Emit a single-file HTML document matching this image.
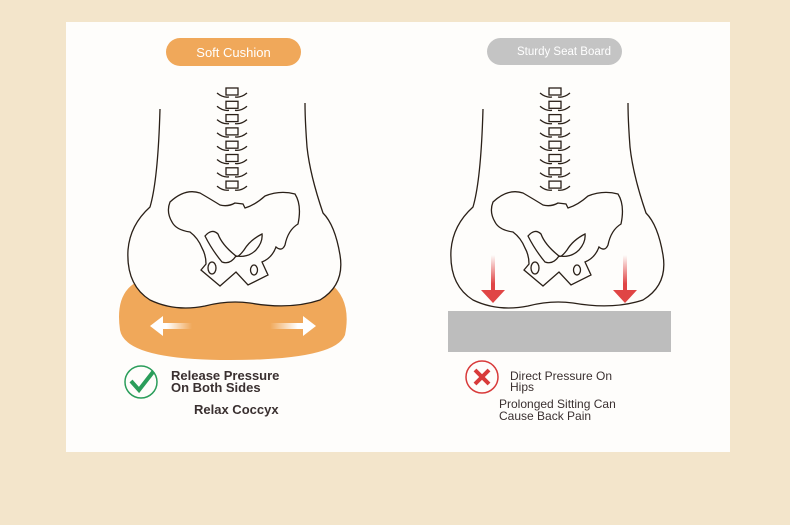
<!DOCTYPE html>
<html><head><meta charset="utf-8"><style>
html,body{margin:0;padding:0;background:#f3e5cb;}
svg{display:block}
text{font-family:"Liberation Sans",sans-serif;}
</style></head><body>
<svg width="790" height="525" viewBox="0 0 790 525" xmlns="http://www.w3.org/2000/svg">
<defs>
<g id="spine" fill="none" stroke="#2a2018" stroke-width="1.3">
  <g id="v"><rect x="-6" y="0" width="12" height="7" fill="#fefdfb"/><path d="M-15 5 Q-9 10 -3 9 M15 5 Q9 10 3 9"/></g>
  <use href="#v" y="13.3"/><use href="#v" y="26.6"/><use href="#v" y="39.9"/>
  <use href="#v" y="53.2"/><use href="#v" y="66.5"/><use href="#v" y="79.8"/><use href="#v" y="93.1"/>
</g>
<g id="pelvis" fill="none" stroke="#2a2018" stroke-width="1.3">
  <path d="M170 202 Q185 188 200 193 Q212 200 220 205 Q228 207 235 203 L243 204 L245 208 Q255 205 265 196 Q280 190 295 194 Q302 205 298 224 Q288 230 285 245 Q282 252 276 247 Q272 258 262 262 L268 275 L248 285 L236 272 L220 286 L201 270 L206 264 Q206 255 202 248 Q198 238 190 232 Q176 230 172 222 Q166 212 170 202 Z"/>
  <path d="M205 236 Q212 250 222 262 Q230 265 236 256 Q222 245 218 234 Q212 228 205 236 Z"/>
  <path d="M262 234 Q250 240 244 250 Q238 258 236 256 Q248 258 256 250 Q263 242 262 234 Z"/>
  <ellipse cx="212" cy="268" rx="4" ry="6"/><ellipse cx="254" cy="270" rx="3.5" ry="5"/>
</g>
<path id="body" fill="#fefdfb" stroke="#2a2018" stroke-width="1.3" d="M160 109 Q158 180 150 207 Q130 225 128 250 Q126 285 150 300 Q175 312 205 306 Q228 300 250 303 Q290 310 320 300 Q345 285 340 255 Q335 225 323 213 Q310 175 307 147 Q305 120 305 103"/>
<linearGradient id="la" x1="1" x2="0"><stop offset="0" stop-color="#fff" stop-opacity="0"/><stop offset="0.6" stop-color="#fff"/></linearGradient>
<linearGradient id="ra" x1="0" x2="1"><stop offset="0" stop-color="#fff" stop-opacity="0"/><stop offset="0.6" stop-color="#fff"/></linearGradient>
<linearGradient id="da" x1="0" y1="0" x2="0" y2="1"><stop offset="0" stop-color="#e04545" stop-opacity="0"/><stop offset="0.6" stop-color="#e04545"/></linearGradient>
</defs>
<rect x="66" y="22" width="664" height="430" fill="#fefdfb"/>

<!-- left -->
<rect x="166" y="38" width="135" height="28" rx="14" fill="#f0a85a"/>
<text x="233.5" y="57" font-size="13" fill="#fff" text-anchor="middle">Soft Cushion</text>
<path d="M135 283 Q230 270 330 283 Q352 300 345 335 Q335 360 230 360 Q125 360 120 330 Q115 295 135 283 Z" fill="#f0a85a"/>
<use href="#body"/>
<g transform="translate(232,88)"><use href="#spine"/></g>
<use href="#pelvis"/>
<path d="M150 326 L163 316 L163 323 L192 323 L192 329 L163 329 L163 336 Z" fill="url(#la)"/>
<path d="M316 326 L303 316 L303 323 L270 323 L270 329 L303 329 L303 336 Z" fill="url(#ra)"/>
<circle cx="141" cy="382" r="16" fill="none" stroke="#2a9d5a" stroke-width="1.5"/>
<path d="M131 381 L139 390 L153 372" fill="none" stroke="#2a9d5a" stroke-width="4"/>
<g font-size="13" fill="#3a3030" font-weight="bold">
<text x="171" y="380">Release Pressure</text>
<text x="171" y="392">On Both Sides</text>
<text x="194" y="414">Relax Coccyx</text>
</g>

<!-- right -->
<rect x="487" y="38" width="135" height="27" rx="13.5" fill="#c4c4c4"/>
<text x="517" y="55" font-size="11.5" fill="#fff">Sturdy Seat Board</text>
<g transform="translate(323,0)"><use href="#body"/><use href="#pelvis"/></g>
<g transform="translate(555,88)"><use href="#spine"/></g>
<rect x="448" y="311" width="223" height="41" fill="#bdbdbd"/>
<path d="M491 255 L495 255 L495 290 L505 290 L493 303 L481 290 L491 290 Z" fill="url(#da)"/>
<path d="M623 255 L627 255 L627 290 L637 290 L625 303 L613 290 L623 290 Z" fill="url(#da)"/>
<circle cx="482" cy="377" r="16" fill="none" stroke="#d83a3a" stroke-width="1.5"/>
<path d="M475 370 L489 384 M489 370 L475 384" stroke="#d83a3a" stroke-width="4"/>
<g font-size="12" fill="#3a3030">
<text x="510" y="380">Direct Pressure On</text>
<text x="510" y="391">Hips</text>
<text x="499" y="408">Prolonged Sitting Can</text>
<text x="499" y="420">Cause Back Pain</text>
</g>
</svg>
</body></html>
